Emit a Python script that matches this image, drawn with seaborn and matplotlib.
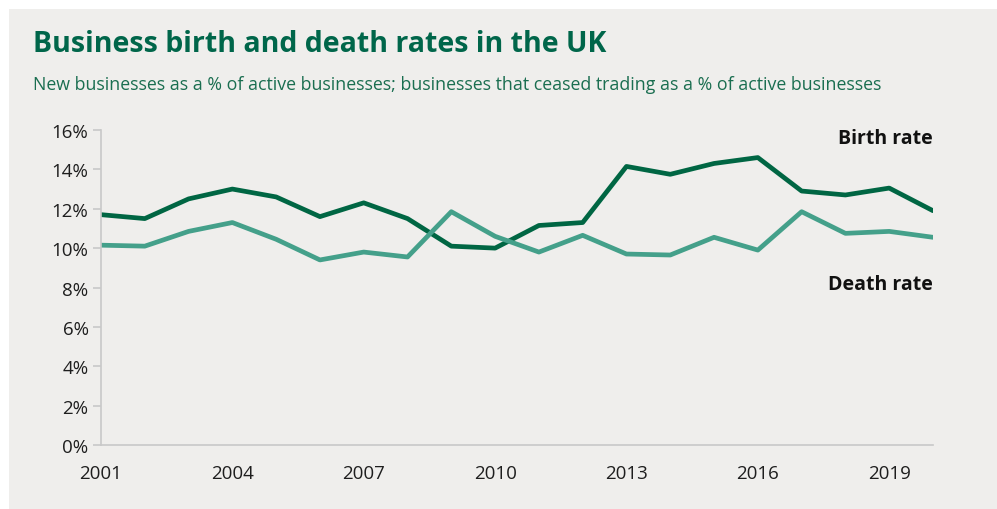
import matplotlib
matplotlib.use("Agg")
import matplotlib.pyplot as plt
from matplotlib.patches import Rectangle
from matplotlib.ticker import FuncFormatter
import seaborn as sns
import pandas as pd

years = list(range(2001, 2021))
birth_rate = [11.7, 11.5, 12.5, 13.0, 12.6, 11.6, 12.3, 11.5, 10.1, 10.0,
              11.15, 11.3, 14.15, 13.75, 14.3, 14.6, 12.9, 12.7, 13.05, 11.9]
death_rate = [10.15, 10.1, 10.85, 11.3, 10.45, 9.4, 9.8, 9.55, 11.85, 10.6,
              9.8, 10.65, 9.7, 9.65, 10.55, 9.9, 11.85, 10.75, 10.85, 10.55]
series_names = ["Birth rate", "Death rate"]
y_ticks = [0, 2, 4, 6, 8, 10, 12, 14, 16]
x_ticks = [2001, 2004, 2007, 2010, 2013, 2016, 2019]

title = "Business birth and death rates in the UK"
subtitle = ("New businesses as a % of active businesses; businesses that ceased "
            "trading as a % of active businesses")

df = pd.DataFrame({
    "year": years * 2,
    "rate": birth_rate + death_rate,
    "series": [series_names[0]] * len(years) + [series_names[1]] * len(years),
})

BG = "#efeeec"
DARK = "#006643"
LIGHT = "#44a08a"

sns.set_theme(style="white")
plt.rcParams["font.family"] = ["Open Sans", "DejaVu Sans"]

fig = plt.figure(figsize=(9.97, 5.10), dpi=100, facecolor="white")
fig.patches.append(Rectangle((9 / 997, 0), 1, 1 - 10 / 510,
                             transform=fig.transFigure, facecolor=BG,
                             edgecolor="none", zorder=-10))

ax = fig.add_axes([101 / 997, 64 / 510, (933 - 101) / 997, (446 - 131) / 510])
ax.set_facecolor(BG)
ax.patch.set_alpha(0)

sns.lineplot(data=df, x="year", y="rate", hue="series",
             palette={series_names[0]: DARK, series_names[1]: LIGHT},
             linewidth=3.4, ax=ax, legend=False)

ax.set_xlim(2001, 2020)
ax.set_ylim(0, 16)
ax.set_xticks(x_ticks)
ax.set_yticks(y_ticks)
ax.yaxis.set_major_formatter(FuncFormatter(lambda v, p: f"{v:.0f}%"))
ax.set_xlabel("")
ax.set_ylabel("")

for s in ["top", "right"]:
    ax.spines[s].set_visible(False)
for s in ["left", "bottom"]:
    ax.spines[s].set_color("#c8c8c8")
    ax.spines[s].set_linewidth(1.2)

ax.tick_params(axis="y", which="major", length=6, width=1.2, color="#c8c8c8",
               labelsize=13.5, labelcolor="#1e1e1e", pad=3, left=True)
ax.tick_params(axis="x", which="major", length=0, labelsize=13.5,
               labelcolor="#1e1e1e", pad=14)

ax.text(2020, 15.6, series_names[0], ha="right", va="center",
        fontsize=14, fontweight="bold", color="#111111")
ax.text(2020, 8.2, series_names[1], ha="right", va="center",
        fontsize=14, fontweight="bold", color="#111111")

fig.text(33 / 997, 1 - 44 / 510, title, ha="left", va="center",
         fontsize=20.5, fontweight="bold", color="#00664a")
fig.text(33 / 997, 1 - 85 / 510, subtitle, ha="left", va="center",
         fontsize=12.8, color="#1a6e50")

fig.savefig("out.png", dpi=100, facecolor="white")
